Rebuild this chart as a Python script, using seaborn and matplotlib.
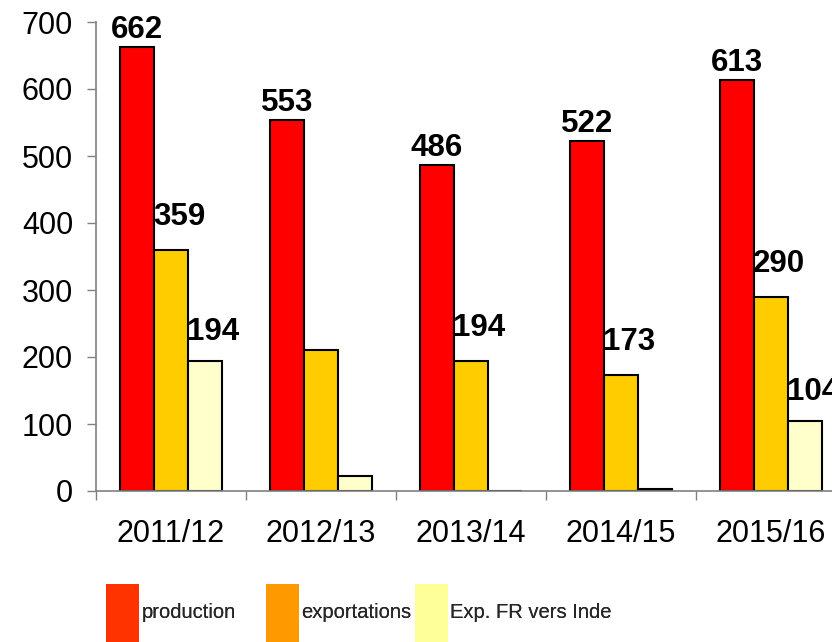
import matplotlib
matplotlib.use("Agg")
import matplotlib.pyplot as plt
import seaborn as sns
import pandas as pd
from matplotlib.patches import Patch

# ---- data ----
years = ["2011/12", "2012/13", "2013/14", "2014/15", "2015/16"]
series_names = ["production", "exportations", "Exp. FR vers Inde"]
production = [662, 553, 486, 522, 613]
exportations = [359, 210, 194, 173, 290]
exp_fr_inde = [194, 22, 0, 3, 104]
# which bars carry a value label
show_production = [True, True, True, True, True]
show_exportations = [True, False, True, True, True]
show_exp_fr_inde = [True, False, False, False, True]
yticks = [0, 100, 200, 300, 400, 500, 600, 700]

bar_colors = ["#FF0000", "#FFCC00", "#FFFFCC"]
legend_colors = ["#FF3300", "#FF9900", "#FFFF99"]

rows = []
for name, vals in zip(series_names, [production, exportations, exp_fr_inde]):
    for y, v in zip(years, vals):
        rows.append({"year": y, "series": name, "value": v})
df = pd.DataFrame(rows)

sns.set_style("white")
plt.rcParams["font.family"] = ["Liberation Sans", "DejaVu Sans"]

fig = plt.figure(figsize=(8.32, 6.42), dpi=100)
ax = fig.add_axes([96 / 832, 151 / 642, 750 / 832, 469 / 642])

sns.barplot(data=df, x="year", y="value", hue="series", order=years,
            hue_order=series_names, palette=bar_colors, edgecolor="black",
            linewidth=1.5, width=0.68, saturation=1, legend=False, ax=ax,
            errorbar=None)

ax.set_xlim(-0.5, len(years) - 0.5)
ax.set_ylim(0, 700)
ax.set_xlabel("")
ax.set_ylabel("")

# spines
for s in ["top", "right"]:
    ax.spines[s].set_visible(False)
for s in ["left", "bottom"]:
    ax.spines[s].set_color("#808080")
    ax.spines[s].set_linewidth(1.2)

# y ticks
ax.set_yticks(yticks)
ax.tick_params(axis="y", direction="out", length=6.5, width=1.0,
               color="#808080", pad=10, labelsize=22, labelcolor="black", left=True)

# x ticks: boundaries as major ticks, labels on minor ticks at centers
ax.set_xticks([i - 0.5 for i in range(len(years) + 1)])
ax.set_xticklabels([])
ax.set_xticks(range(len(years)), minor=True)
ax.set_xticklabels(years, minor=True)
ax.tick_params(axis="x", which="major", direction="out", length=6.5, width=1.0,
               color="#808080", bottom=True)
ax.tick_params(axis="x", which="minor", length=0, pad=20, labelsize=22,
               labelcolor="black")

# value labels
label_cfg = [
    (show_production, production, 1.5, 0),
    (show_exportations, exportations, 13, 6),
    (show_exp_fr_inde, exp_fr_inde, 10, 6),
]
for cont, (shows, vals, pad, dx) in zip(ax.containers, label_cfg):
    labels = [str(v) if s else "" for s, v in zip(shows, vals)]
    anns = ax.bar_label(cont, labels=labels, padding=pad, fontsize=22.5,
                        fontweight="bold", color="black", clip_on=False)
    for a in anns:
        a.xyann = (dx, pad)

# legend: three separately placed entries
leg_x = [106, 266, 415]
for name, col, lx in zip(series_names, legend_colors, leg_x):
    leg = fig.legend(handles=[Patch(facecolor=col, edgecolor="none", label=name)],
                     loc="center left", bbox_to_anchor=(lx / 832, 29 / 642),
                     frameon=False, fontsize=14.5, handlelength=1.65,
                     handleheight=4.0, handletextpad=0.1, borderpad=0,
                     borderaxespad=0)
    fig.add_artist(leg)

fig.savefig("out.png", dpi=100)
